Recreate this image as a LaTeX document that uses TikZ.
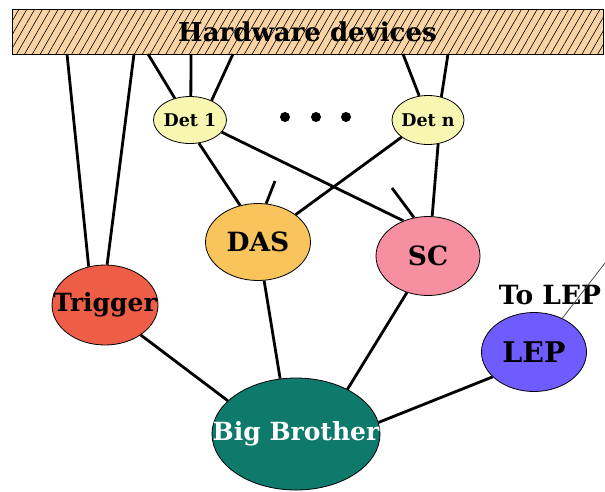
\documentclass[tikz,border=0pt]{standalone}
\usepackage{fontspec}
\setmainfont{DejaVu Serif}
\usetikzlibrary{shapes.geometric,patterns.meta}

\definecolor{hwpeach}{RGB}{250,212,165}
\definecolor{detyellow}{RGB}{247,247,178}
\definecolor{dasorange}{RGB}{250,196,92}
\definecolor{scpink}{RGB}{246,143,160}
\definecolor{trigred}{RGB}{238,94,70}
\definecolor{lepblue}{RGB}{110,92,255}
\definecolor{bbteal}{RGB}{14,122,108}

\tikzset{
  blob/.style={ellipse,draw=black,line width=0.8pt,inner sep=0pt,
    font=\fontsize{25}{27}\selectfont\bfseries},
  big/.style={font=\fontsize{26.5}{28}\selectfont\bfseries},
  det/.style={blob,fill=detyellow,minimum width=73pt,minimum height=47pt,
    font=\fontsize{17.5}{19}\selectfont\bfseries},
  link/.style={line width=2.8pt},
  dot/.style={circle,fill=black,inner sep=0pt,minimum size=10pt},
}

\begin{document}
\begin{tikzpicture}[x=1pt,y=-1pt]
\useasboundingbox (0,0) rectangle (605,491);

\node[draw=black,line width=0.8pt,preaction={fill=hwpeach},
  pattern={Lines[angle=60,distance=6.8pt,line width=0.6pt]},
  minimum width=591pt,minimum height=45pt,inner sep=0pt,
  font=\fontsize{26}{28}\selectfont\bfseries] (hw) at (307.5,31.5) {Hardware devices};

\node[det] (det1) at (190,120) {\makebox[0pt]{Det 1}};
\node[det,minimum width=72pt,minimum height=49pt] (detn) at (428,120) {\makebox[0pt]{Det n}};

\node[dot] (dota) at (285,117) {};
\node[dot] (dotb) at (316,117) {};
\node[dot] (dotc) at (346,117) {};

\node[blob,big,fill=dasorange,minimum width=105pt,minimum height=77pt] (das) at (258,242) {\makebox[0pt]{DAS}};
\node[blob,big,fill=scpink,minimum width=104pt,minimum height=79pt] (sc) at (428,256) {\makebox[0pt]{SC}};
\node[blob,fill=trigred,minimum width=106pt,minimum height=80pt] (trig) at (105,305) {\makebox[0pt]{Trigger}};
\node[blob,fill=lepblue,minimum width=105pt,minimum height=79pt,
  font=\fontsize{28.5}{30}\selectfont\bfseries] (lep) at (534,352) {\makebox[0pt]{LEP}};
\node[blob,fill=bbteal,text=white,minimum width=168pt,minimum height=112pt] (bb) at (296,434) {\makebox[0pt]{Big Brother}};

\node[big,inner sep=0pt] (tolep) at (550,295) {To LEP};

\coordinate (hwa) at (67,54);
\coordinate (hwb) at (134,54);
\coordinate (hwc) at (148,54);
\coordinate (hwd) at (191,54);
\coordinate (hwe) at (233,54);
\coordinate (hwf) at (403,54);
\coordinate (hwg) at (448,54);
\coordinate (dasstub) at (275,181);
\coordinate (scstub) at (392,188);
\coordinate (leptail) at (605,263);

\draw[link] (hwa) -- (trig.113);
\draw[link] (hwb) -- (trig.87);
\draw[link] (hwc) -- (det1.125);
\draw[link] (hwd) -- (det1.88);
\draw[link] (hwe) -- (det1.42);
\draw[link] (hwf) -- (detn.110);
\draw[link] (hwg) -- (detn.60);

\draw[link] (det1.-69) -- (das.116);
\draw[link] (det1.-21) -- (sc.125);
\draw[link] (detn.213) -- (das.36);
\draw[link] (detn.-67) -- (sc.84);
\draw[link] (das.78) -- (dasstub);
\draw[link] (sc.110) -- (scstub);

\draw[link] (das.-81) -- (bb.106);
\draw[link] (sc.240) -- (bb.41);
\draw[link] (trig.-40) -- (bb.154);
\draw[link] (lep.211) -- (bb.8);

\draw[black!70,line width=0.8pt] (lep.50) -- (leptail);
\end{tikzpicture}
\end{document}
